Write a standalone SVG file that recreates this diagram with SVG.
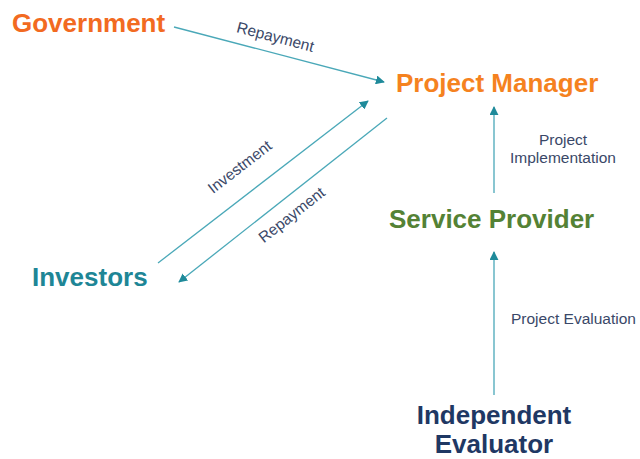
<svg xmlns="http://www.w3.org/2000/svg" width="640" height="459" viewBox="0 0 640 459">
  <defs>
    <marker id="arrow" viewBox="0 0 10 10" refX="9" refY="5" markerWidth="9" markerHeight="9" markerUnits="userSpaceOnUse" orient="auto">
      <path d="M0,0 L10,5 L0,10 Z" fill="#1F8A9A"/>
    </marker>
    <style>
      .node { font-family: "Liberation Sans", Arial, sans-serif; font-weight: bold; font-size: 26px; }
      .lbl { font-family: "Liberation Sans", Arial, sans-serif; font-size: 15.5px; fill: #3A4868; }
      .edge { stroke: #4AA8B8; stroke-width: 1.3; fill: none; marker-end: url(#arrow); }
    </style>
  </defs>
  <rect width="640" height="459" fill="#FFFFFF"/>

  <g id="government"><text class="node" x="12" y="32" fill="#F26A21">Government</text></g>
  <g id="project-manager"><text class="node" x="396" y="92" fill="#F5821F">Project Manager</text></g>
  <g id="service-provider"><text class="node" x="389" y="228" fill="#548235">Service Provider</text></g>
  <g id="investors"><text class="node" x="32" y="286" fill="#1E8696">Investors</text></g>
  <g id="independent-evaluator">
    <text class="node" x="494" y="424" text-anchor="middle" fill="#1F3864">Independent</text>
    <text class="node" x="494" y="453" text-anchor="middle" fill="#1F3864">Evaluator</text>
  </g>

  <g id="connectors">
    <line class="edge" x1="174" y1="27" x2="384" y2="82"/>
    <line class="edge" x1="158" y1="263" x2="368" y2="101"/>
    <line class="edge" x1="387" y1="118" x2="179" y2="282"/>
    <line class="edge" x1="494" y1="193" x2="494" y2="107"/>
    <line class="edge" x1="494" y1="395" x2="494" y2="252"/>

    <text class="lbl" transform="translate(274,42) rotate(14.6)" text-anchor="middle">Repayment</text>
    <text class="lbl" transform="translate(243,171) rotate(-37.8)" text-anchor="middle">Investment</text>
    <text class="lbl" transform="translate(295,219) rotate(-38)" text-anchor="middle">Repayment</text>
    <text class="lbl" x="563" y="145" text-anchor="middle">Project</text>
    <text class="lbl" x="563" y="163" text-anchor="middle">Implementation</text>
    <text class="lbl" x="511" y="324">Project Evaluation</text>
  </g>
</svg>
